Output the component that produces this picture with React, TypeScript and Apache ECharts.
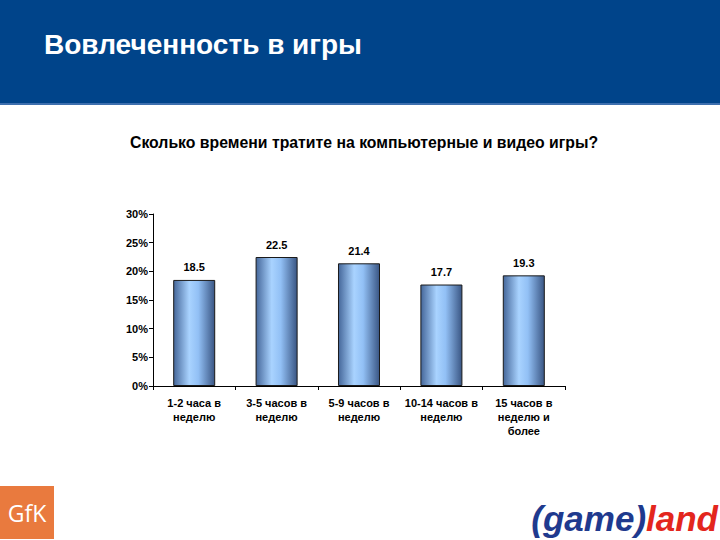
import React, { useEffect, useRef } from "react";
import * as echarts from "echarts";

const categories = [
  "1-2 часа в\nнеделю",
  "3-5 часов в\nнеделю",
  "5-9 часов в\nнеделю",
  "10-14 часов в\nнеделю",
  "15 часов в\nнеделю и\nболее",
];
const values = [18.5, 22.5, 21.4, 17.7, 19.3];
const yMin = 0;
const yMax = 30;
const yInterval = 5;

const FONT = "'Liberation Sans', Arial, sans-serif";

export default function App() {
  const ref = useRef<HTMLDivElement>(null);
  useEffect(() => {
    if (!ref.current) return;
    const chart = echarts.init(ref.current, null, { renderer: "svg" });
    const barGradient = new echarts.graphic.LinearGradient(0, 0, 1, 0, [
      { offset: 0, color: "#45679a" },
      { offset: 0.38, color: "#a9d3ff" },
      { offset: 0.6, color: "#92c0f5" },
      { offset: 1, color: "#3a5684" },
    ]);
    chart.setOption({
      animation: false,
      backgroundColor: "#ffffff",
      textStyle: { fontFamily: FONT },
      graphic: [
        { type: "rect", shape: { x: 0, y: 0, width: 720, height: 104 }, style: { fill: "#00448a" }, z: 0 },
        { type: "rect", shape: { x: 0, y: 103, width: 720, height: 2 }, style: { fill: "#3d6fae" }, z: 0 },
        {
          type: "text",
          left: 44,
          top: 30,
          style: { text: "Вовлеченность в игры", fill: "#ffffff", font: `bold 28px ${FONT}` },
          z: 2,
        },
        {
          type: "text",
          left: 130,
          top: 134,
          style: {
            text: "Сколько времени тратите на компьютерные и видео игры?",
            fill: "#000000",
            font: `bold 15.8px ${FONT}`,
          },
        },
        { type: "rect", shape: { x: 0, y: 486, width: 54, height: 53 }, style: { fill: "#e97a3e" } },
        {
          type: "text",
          x: 27,
          y: 513,
          style: {
            text: "GfK",
            fill: "#ffffff",
            font: `23px 'Open Sans', ${FONT}`,
            align: "center",
            verticalAlign: "middle",
          },
        },
        {
          type: "text",
          right: 2,
          top: 501,
          style: {
            rich: {
              a: { fill: "#1f3a8e", font: `italic bold 35px ${FONT}` },
              b: { fill: "#e3261d", font: `italic bold 35px ${FONT}` },
            },
            text: "{a|(game)}{b|land}",
          },
        },
      ],
      grid: { left: 153, right: 155, top: 214, bottom: 154, containLabel: false },
      xAxis: {
        type: "category",
        data: categories,
        axisLine: { lineStyle: { color: "#000", width: 1 } },
        axisTick: { show: true, alignWithLabel: false, length: 4, lineStyle: { color: "#000" } },
        axisLabel: {
          color: "#000",
          fontSize: 11,
          fontWeight: "bold",
          fontFamily: FONT,
          lineHeight: 14,
          margin: 10,
          interval: 0,
        },
      },
      yAxis: {
        type: "value",
        min: yMin,
        max: yMax,
        interval: yInterval,
        splitLine: { show: false },
        axisLine: { show: true, lineStyle: { color: "#000", width: 1 } },
        axisTick: { show: true, length: 4, lineStyle: { color: "#000" } },
        axisLabel: {
          color: "#000",
          fontSize: 11,
          fontWeight: "bold",
          fontFamily: FONT,
          formatter: "{value}%",
          margin: 5,
        },
      },
      series: [
        {
          type: "bar",
          data: values,
          barWidth: "51%",
          itemStyle: { color: barGradient, borderColor: "#1a1a1a", borderWidth: 1 },
          label: {
            show: true,
            position: "top",
            distance: 7,
            color: "#000",
            fontSize: 11,
            fontWeight: "bold",
            fontFamily: FONT,
            formatter: (p: any) => p.value.toFixed(1),
          },
        },
      ],
    });
    return () => chart.dispose();
  }, []);
  return (
    <div
      ref={ref}
      style={{ position: "fixed", left: 0, top: 0, width: 720, height: 540 }}
    />
  );
}
